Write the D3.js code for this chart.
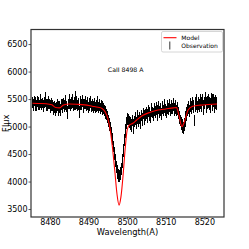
<!DOCTYPE html>
<html>
<head>
<meta charset="utf-8">
<script src="https://cdn.jsdelivr.net/npm/d3@7"></script>
<style>
  body { margin: 0; background: #fff; }
  svg { display: block; font-family: "DejaVu Sans", sans-serif; }
  .tick text { fill: #000; }
</style>
</head>
<body>
<svg id="chart" width="249" height="249"></svg>
<script>
"use strict"

// model spectrum (wavelength, flux)
const modelWave = [8475.5, 8477, 8479, 8480.5, 8481.5, 8482.5, 8483.5, 8485, 8487, 8489, 8491, 8492.5, 8493.5,
    8494.3, 8495, 8495.6, 8496.2, 8496.8, 8497.4, 8497.9, 8498.4, 8499, 8499.5, 8500, 8500.5, 8501.5,
    8502.5, 8504, 8506, 8508, 8510, 8512, 8512.8, 8513.5, 8514.2, 8514.9, 8515.8, 8517, 8519, 8521, 8523.3]
const modelFlux = [5425, 5420, 5415, 5395, 5345, 5340, 5390, 5410, 5405, 5395, 5370, 5350, 5330,
    5270, 5150, 4950, 4620, 4200, 3760, 3570, 3720, 4150, 4600, 4930, 5020, 5060,
    5120, 5200, 5260, 5300, 5320, 5340, 5345, 5180, 5000, 5100, 5300, 5370, 5390, 5400, 5410]

// observed spectrum, sampled every 0.25 A from 8475.5
const obsStart = 8475.5
const obsStep = 0.25
const obsFlux = [
    5440, 5390, 5465, 5410, 5380, 5450, 5425, 5395,
    5470, 5405, 5430, 5375, 5445, 5490, 5400, 5420,
    5385, 5440, 5410, 5365, 5400, 5380, 5330, 5360,
    5310, 5350, 5385, 5330, 5360, 5300, 5395, 5370,
    5420, 5380, 5440, 5360, 5250, 5410, 5450, 5390,
    5430, 5470, 5385, 5420, 5510, 5400, 5440, 5380,
    5410, 5260, 5430, 5395, 5460, 5370, 5415, 5440,
    5380, 5420, 5350, 5400, 5445, 5365, 5390, 5355,
    5400, 5340, 5380, 5420, 5350, 5390, 5330, 5370,
    5360, 5320, 5330, 5290, 5250, 5220, 5170, 5100, 5040, 4980,
    4880, 4770, 4640, 4510, 4380, 4260, 4170, 4110, 4100, 4140,
    4230, 4380, 4560, 4750, 4920, 5060, 5140, 5120, 5080, 5060, 5050,
    5020, 5110, 5000, 5090, 5140, 5060, 5170, 5100,
    5150, 5080, 5200, 5130, 5240, 5170, 5210, 5250,
    5190, 5280, 5230, 5170, 5300, 5250, 5220, 5310,
    5260, 5330, 5240, 5290, 5350, 5270, 5310, 5230,
    5340, 5290, 5380, 5300, 5260, 5350, 5320, 5390,
    5300, 5360, 5330, 5400, 5310, 5350, 5290, 5330,
    5250, 5160, 5110, 5050, 5010, 4980, 5040, 5090,
    5160, 5230, 5300, 5340, 5280, 5390, 5350, 5420,
    5370, 5110, 5400, 5450, 5350, 5420, 5380, 5460,
    5400, 5480, 5350, 5430, 5510, 5390, 5440, 5470,
    5420, 5380, 5500, 5450, 5410, 5470, 5390, 5440, 5420
]
const obsErr = [
    95, 110, 90, 125, 105, 100, 120, 95,
    130, 105, 95, 115, 100, 135, 110, 90,
    105, 120, 95, 110, 125, 100, 115, 105,
    120, 95, 110, 130, 105, 115, 100, 125,
    105, 110, 130, 100, 115, 95, 135, 105,
    110, 125, 100, 115, 140, 105, 120, 95,
    115, 105, 125, 100, 110, 130, 95, 115,
    105, 120, 100, 125, 110, 95, 115, 105,
    120, 100, 110, 130, 105, 115, 95, 110,
    100, 110, 95, 105, 115, 100, 110, 105, 120, 100,
    115, 110, 105, 120, 115, 110, 125, 120, 115, 120,
    110, 125, 115, 110, 120, 105, 115, 100, 110, 105, 115,
    115, 105, 130, 100, 120, 110, 125, 105,
    110, 130, 105, 120, 100, 135, 115, 105,
    125, 105, 120, 110, 130, 100, 115, 125,
    105, 120, 130, 100, 115, 110, 125, 105,
    120, 100, 125, 115, 105, 130, 110, 120,
    115, 130, 105, 120, 110, 125, 100, 115,
    110, 120, 105, 115, 125, 110, 120, 105,
    115, 125, 110, 120, 105, 130, 115, 125,
    120, 105, 130, 145, 110, 125, 115, 135,
    130, 115, 140, 110, 125, 145, 120, 130,
    125, 140, 115, 135, 130, 120, 145, 125, 115
]

const xTicks = [8480, 8490, 8500, 8510, 8520]
const yTicks = [3500, 4000, 4500, 5000, 5500, 6000, 6500]
const lineLabel = "CaII 8498 A"

const svg = d3.select("#chart")
const pL = 31, pT = 29.5, pR = 224, pB = 217

const x = d3.scaleLinear().domain([8475.1, 8525.1]).range([pL, pR])
const y = d3.scaleLinear().domain([3355, 6765]).range([pB, pT])

const model = modelWave.map((w, i) => ({w: w, f: modelFlux[i]}))
const obs = obsFlux.map((f, i) => ({w: obsStart + i * obsStep, f: f, e: obsErr[i]}))

// observation error bars
svg.append("g").attr("shape-rendering", "crispEdges")
    .selectAll("line").data(obs).enter().append("line")
    .attr("x1", d => x(d.w)).attr("x2", d => x(d.w))
    .attr("y1", d => y(d.f - d.e)).attr("y2", d => y(d.f + d.e))
    .attr("stroke", "#000").attr("stroke-width", 1)

// model line
svg.append("path").datum(model)
    .attr("fill", "none").attr("stroke", "#ff0000").attr("stroke-width", 1.1)
    .attr("d", d3.line().x(d => x(d.w)).y(d => y(d.f)).curve(d3.curveMonotoneX))

// axes
const xAxis = svg.append("g").attr("transform", `translate(0,${pB})`)
    .call(d3.axisBottom(x).tickValues(xTicks).tickFormat(d3.format("d")).tickSize(2.5).tickPadding(-0.5))
const yAxis = svg.append("g").attr("transform", `translate(${pL},0)`)
    .call(d3.axisLeft(y).tickValues(yTicks).tickFormat(d3.format("d")).tickSize(2.5).tickPadding(1))
;[xAxis, yAxis].forEach(a => {
    a.select(".domain").remove()
    a.selectAll(".tick line").attr("stroke", "#333").attr("stroke-width", 0.8)
    a.selectAll(".tick text").attr("font-size", 8).attr("font-family", "DejaVu Sans")
})

svg.append("rect").attr("x", pL).attr("y", pT).attr("width", pR - pL).attr("height", pB - pT)
    .attr("fill", "none").attr("stroke", "#333").attr("stroke-width", 1.2)

svg.append("text").attr("x", (pL + pR) / 2).attr("y", 235).attr("text-anchor", "middle")
    .attr("font-size", 8.3).text("Wavelength(A)")
svg.append("text").attr("transform", `translate(8.5,${(pT + pB) / 2}) rotate(-90)`)
    .attr("text-anchor", "middle").attr("font-size", 8.3).text("Flux")

svg.append("text").attr("x", x(8495)).attr("y", y(6000)).attr("font-size", 6.2).text(lineLabel)

// legend
const lg = svg.append("g")
lg.append("rect").attr("x", 161.5).attr("y", 31.5).attr("width", 61).attr("height", 20.5).attr("rx", 1.5)
    .attr("fill", "#fff").attr("fill-opacity", 0.8).attr("stroke", "#ccc").attr("stroke-width", 0.8)
lg.append("line").attr("x1", 163.5).attr("x2", 176.5).attr("y1", 37.7).attr("y2", 37.7)
    .attr("stroke", "#ff0000").attr("stroke-width", 1.1)
lg.append("line").attr("x1", 169.8).attr("x2", 169.8).attr("y1", 41.5).attr("y2", 49.5)
    .attr("stroke", "#000").attr("stroke-width", 0.8)
lg.append("text").attr("x", 181.3).attr("y", 39.8).attr("font-size", 6).text("Model")
lg.append("text").attr("x", 181.3).attr("y", 48).attr("font-size", 6).text("Observation")
</script>
</body>
</html>
